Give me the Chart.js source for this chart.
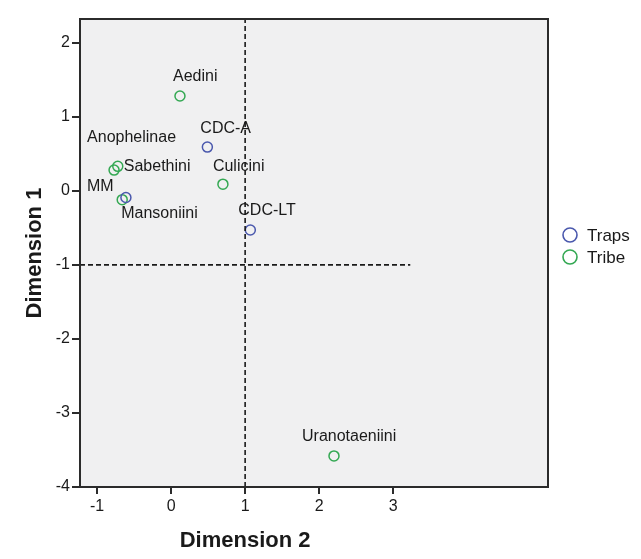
<!DOCTYPE html>
<html>
<head>
<meta charset="utf-8">
<script src="https://cdn.jsdelivr.net/npm/chart.js@4"></script>
<style>
  html, body { margin: 0; padding: 0; background: #fff; }
  #wrap { width: 641px; height: 559px; }
</style>
</head>
<body>
<div id="wrap"><canvas id="chart" width="641" height="559"></canvas></div>
<script>
// dimension 2 (x) / dimension 1 (y) coordinates
const trapNames = ['CDC-A', 'MM', 'CDC-LT']
const trapX = [0.49, -0.61, 1.07]
const trapY = [0.59, -0.09, -0.53]

const tribeNames = ['Aedini', 'Anophelinae', 'Sabethini', 'Culicini', 'Mansoniini', 'Uranotaeniini']
const tribeX = [0.12, -0.77, -0.72, 0.70, -0.66, 2.20]
const tribeY = [1.28, 0.28, 0.33, 0.09, -0.12, -3.58]

const xTicks = [-1, 0, 1, 2, 3]
const yTicks = [-4, -3, -2, -1, 0, 1, 2]

// reference lines
const vLineX = [1, 1]
const vLineY = [-4, 2.32]
const hLineX = [-1.23, 3.23]
const hLineY = [-1, -1]

const BLUE = '#4a58ad'
const GREEN = '#34a853'
const FONT = '"Liberation Sans", Arial, sans-serif'

// label offsets in px from the point (left edge, vertical middle)
const labelPos = {
  'CDC-A': [-7, -19],
  'MM': [-39, -11],
  'CDC-LT': [-12, -19],
  'Aedini': [-7, -19],
  'Anophelinae': [-27, -32],
  'Sabethini': [6, 0],
  'Culicini': [-10, -18],
  'Mansoniini': [-1, 14],
  'Uranotaeniini': [-32, -19]
}

const toPts = (xs, ys) => xs.map((x, i) => ({ x: x, y: ys[i] }))

const mdsPlugin = {
  id: 'mds',
  beforeDatasetsDraw (chart) {
    const { ctx, chartArea: a } = chart
    ctx.save()
    ctx.fillStyle = '#f0f0f1'
    ctx.fillRect(a.left, a.top, a.right - a.left, a.bottom - a.top)
    ctx.restore()
  },
  afterDatasetsDraw (chart) {
    const { ctx, chartArea: a } = chart
    ctx.save()
    // frame
    ctx.strokeStyle = '#2b2b2b'
    ctx.lineWidth = 2
    ctx.strokeRect(a.left, a.top, a.right - a.left, a.bottom - a.top)

    // point labels
    ctx.fillStyle = '#1a1a1a'
    ctx.font = '16px ' + FONT
    ctx.textBaseline = 'middle'
    ctx.textAlign = 'left'
    chart.data.datasets.forEach((ds, di) => {
      if (!ds.names) return
      const meta = chart.getDatasetMeta(di)
      meta.data.forEach((el, i) => {
        const p = labelPos[ds.names[i]]
        ctx.fillText(ds.names[i], el.x + p[0], el.y + p[1])
      })
    })

    // x axis title, centred under the tick range
    const xs = chart.scales.x
    const cx = (xs.getPixelForValue(xTicks[0]) + xs.getPixelForValue(xTicks[xTicks.length - 1])) / 2
    ctx.font = 'bold 22px ' + FONT
    ctx.textAlign = 'center'
    ctx.fillText('Dimension 2', cx, 541)

    // legend
    const items = chart.data.datasets.filter(d => d.names)
    items.forEach((d, i) => {
      const y = 235 + i * 22
      ctx.beginPath()
      ctx.arc(570, y, 7, 0, Math.PI * 2)
      ctx.strokeStyle = d.borderColor
      ctx.lineWidth = 1.6
      ctx.stroke()
      ctx.fillStyle = '#1a1a1a'
      ctx.font = '17px ' + FONT
      ctx.textAlign = 'left'
      ctx.fillText(d.label, 587, y + 1)
    })
    ctx.restore()
  }
}

const dashed = {
  type: 'line',
  borderColor: '#1a1a1a',
  borderWidth: 1.6,
  borderDash: [5, 3],
  pointRadius: 0,
  fill: false
}

new Chart(document.getElementById('chart'), {
  type: 'scatter',
  data: {
    datasets: [
      Object.assign({ label: 'v', data: toPts(vLineX, vLineY) }, dashed),
      Object.assign({ label: 'h', data: toPts(hLineX, hLineY) }, dashed),
      {
        label: 'Traps',
        names: trapNames,
        data: toPts(trapX, trapY),
        borderColor: BLUE,
        backgroundColor: 'rgba(0,0,0,0)',
        borderWidth: 1.5,
        pointRadius: 5
      },
      {
        label: 'Tribe',
        names: tribeNames,
        data: toPts(tribeX, tribeY),
        borderColor: GREEN,
        backgroundColor: 'rgba(0,0,0,0)',
        borderWidth: 1.5,
        pointRadius: 5
      }
    ]
  },
  options: {
    responsive: false,
    animation: false,
    layout: { padding: { left: 0, top: 19, right: 93, bottom: 0 } },
    plugins: {
      legend: { display: false },
      tooltip: { enabled: false }
    },
    scales: {
      x: {
        type: 'linear',
        min: -1.23,
        max: 5.09,
        afterBuildTicks: (s) => { s.ticks = xTicks.map(v => ({ value: v })) },
        afterFit: (s) => { s.height = 72 },
        grid: { drawOnChartArea: false, drawTicks: true, tickLength: 7, color: '#2b2b2b', lineWidth: 2 },
        border: { display: true, color: '#2b2b2b', width: 2 },
        ticks: { color: '#1a1a1a', font: { size: 16, family: FONT }, padding: 3 }
      },
      y: {
        type: 'linear',
        min: -4,
        max: 2.32,
        afterBuildTicks: (s) => { s.ticks = yTicks.map(v => ({ value: v })) },
        afterFit: (s) => { s.width = 80 },
        grid: { drawOnChartArea: false, drawTicks: true, tickLength: 8, color: '#2b2b2b', lineWidth: 2 },
        border: { display: true, color: '#2b2b2b', width: 2 },
        ticks: { color: '#1a1a1a', font: { size: 16, family: FONT }, padding: 2 },
        title: {
          display: true,
          text: 'Dimension 1',
          color: '#1a1a1a',
          font: { size: 22, weight: 'bold', family: FONT },
          padding: { top: 22, bottom: 0 }
        }
      }
    }
  },
  plugins: [mdsPlugin]
})
</script>
</body>
</html>
